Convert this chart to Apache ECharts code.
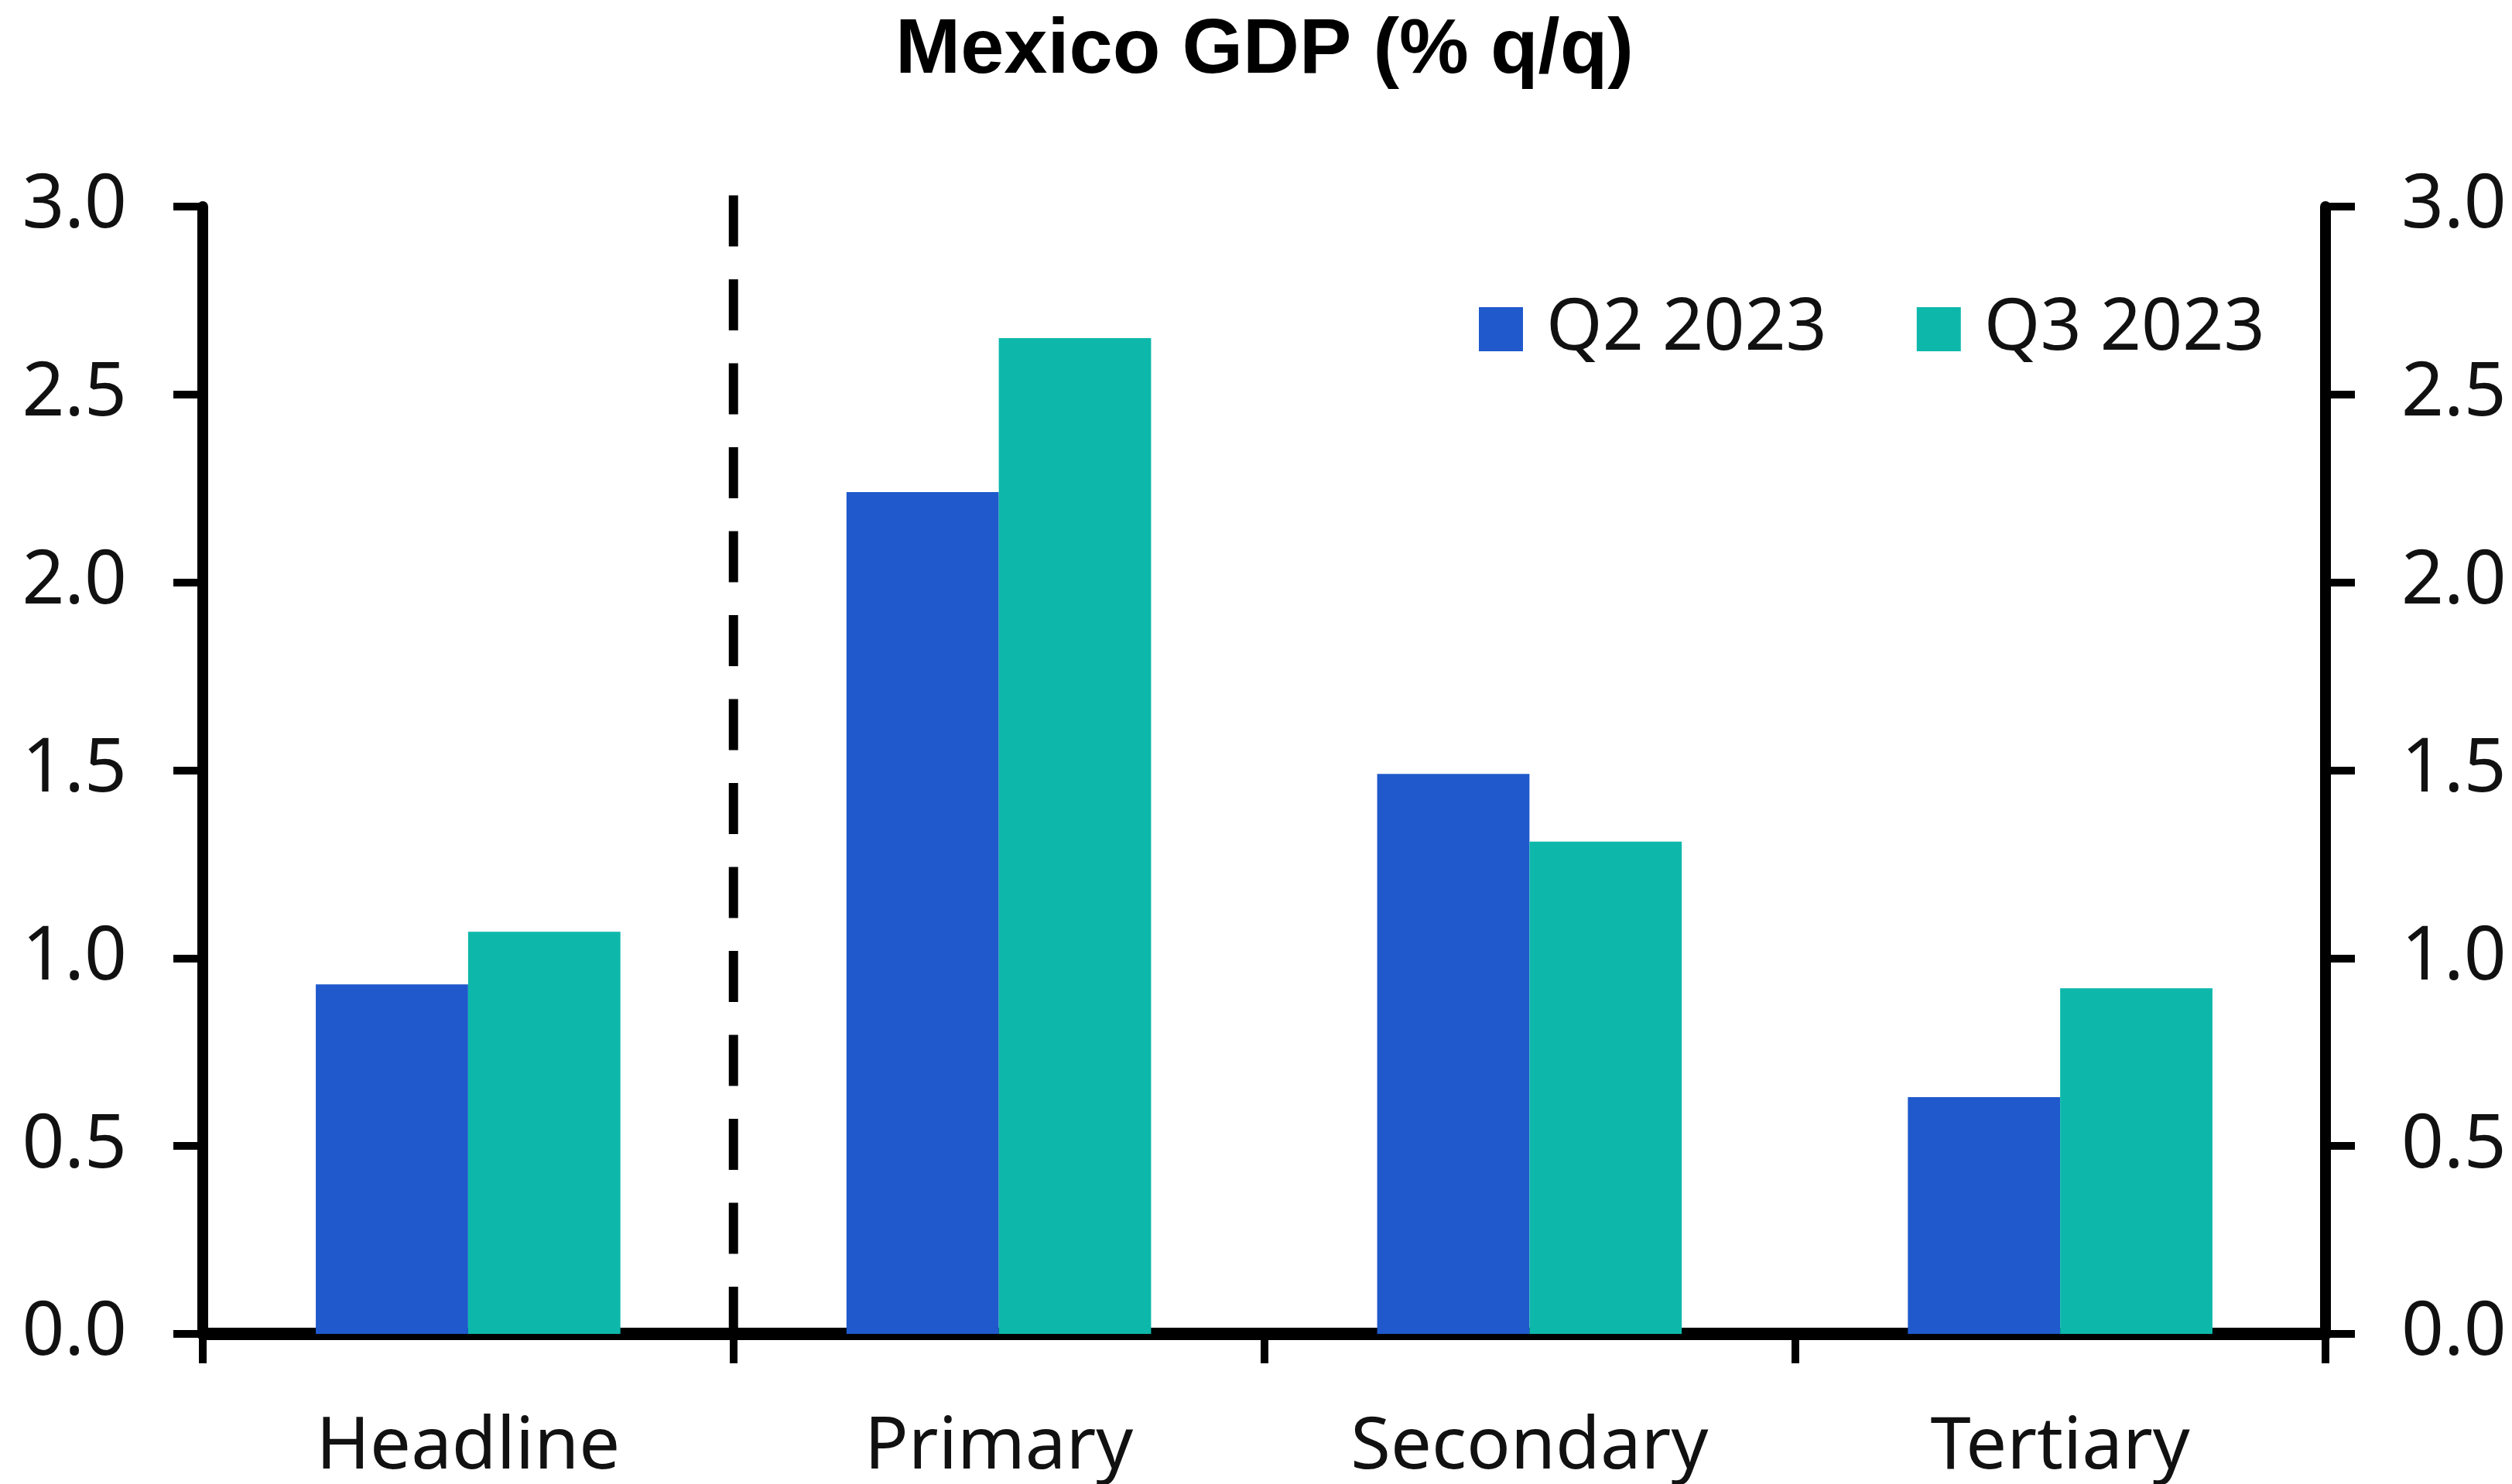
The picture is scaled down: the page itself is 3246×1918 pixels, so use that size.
<!DOCTYPE html>
<html>
<head>
<meta charset="utf-8">
<script src="https://cdn.jsdelivr.net/npm/echarts@6/dist/echarts.min.js"></script>
<style>
html,body{margin:0;padding:0;background:#fff;}
#chart{width:3246px;height:1918px;}
</style>
</head>
<body>
<div id="chart"></div>
<script>
// ---- data ----
const titleText = 'Mexico GDP (% q/q)';
const categories = ['Headline', 'Primary', 'Secondary', 'Tertiary'];
const seriesNames = ['Q2 2023', 'Q3 2023'];
const q2Values = [0.93, 2.24, 1.49, 0.63];
const q3Values = [1.07, 2.65, 1.31, 0.92];
const yMin = 0, yMax = 3, yStep = 0.5;
// divider between Headline and Primary (category-boundary units, value)
const dividerLine = [[1, 3.03], [1, 0]];

const colors = ['#1F59CC', '#0DB8AB'];
const baseFont = "'Noto Sans', sans-serif";
const fs = 96;

const chart = echarts.init(document.getElementById('chart'), null, {renderer: 'canvas'});

const yAxisCommon = {
  type: 'value', min: yMin, max: yMax, interval: yStep,
  splitLine: {show: false},
  axisLine: {show: true, lineStyle: {color: '#000', width: 14}},
  axisTick: {show: true, inside: false, length: 38, lineStyle: {color: '#000', width: 10}},
  axisLabel: {
    color: '#111', fontFamily: baseFont, fontSize: fs, margin: 98,
    formatter: v => v.toFixed(1)
  }
};

chart.setOption({
  animation: false,
  backgroundColor: '#fff',
  title: {
    text: titleText,
    left: 1157, top: 16, padding: 0,
    textStyle: {fontFamily: "'Liberation Sans', Arial, sans-serif", fontWeight: 'bold', fontSize: 101, color: '#000', lineHeight: 101}
  },
  legend: {
    data: seriesNames,
    left: 1911, top: 379, padding: 0,
    itemWidth: 57, itemHeight: 57, itemGap: 116,
    icon: 'rect',
    textStyle: {fontFamily: baseFont, fontSize: 93, color: '#111', lineHeight: 57, width: 357, padding: [0, 0, 0, 25]}
  },
  grid: {left: 262, right: 241, top: 267, bottom: 194, containLabel: false},
  xAxis: [{
    type: 'category', data: categories,
    axisLine: {show: true, onZero: false, lineStyle: {color: '#000', width: 16}},
    axisTick: {show: true, alignWithLabel: false, length: 38, lineStyle: {color: '#000', width: 10}},
    axisLabel: {color: '#111', fontFamily: baseFont, fontSize: 94, margin: 100, lineHeight: 94},
    splitLine: {show: false}
  }, {
    type: 'value', min: 0, max: categories.length, show: false
  }],
  yAxis: [
    Object.assign({position: 'left'}, yAxisCommon),
    Object.assign({position: 'right'}, yAxisCommon)
  ],
  series: [{
    name: seriesNames[0], type: 'bar', data: q2Values, xAxisIndex: 0, yAxisIndex: 0,
    itemStyle: {color: colors[0]}, barGap: '0%', barCategoryGap: '42.6%', z: 1
  }, {
    name: seriesNames[1], type: 'bar', data: q3Values, xAxisIndex: 0, yAxisIndex: 0,
    itemStyle: {color: colors[1]}, barGap: '0%', barCategoryGap: '42.6%', z: 1
  }, {
    name: 'divider', type: 'line', data: dividerLine, xAxisIndex: 1, yAxisIndex: 0,
    symbol: 'none', clip: false, silent: true, z: 3,
    lineStyle: {color: '#000', width: 12, type: [66, 42.5], cap: 'butt'}
  }]
});
</script>
</body>
</html>
